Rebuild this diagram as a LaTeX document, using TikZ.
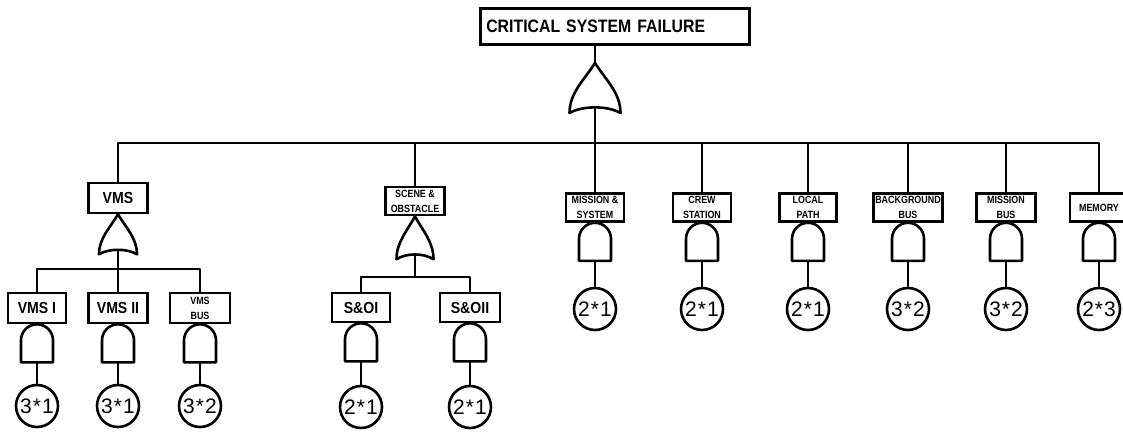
\documentclass[tikz,border=0pt]{standalone}
\usepackage{fontspec}
\setmainfont{Liberation Sans}
\newfontfamily\lettering[FakeStretch=0.88]{Liberation Sans Bold}
\newfontfamily\tagletter[FakeStretch=0.85]{Liberation Sans Bold}
\usetikzlibrary{calc}

\tikzset{
  wire/.style={line width=2.6pt, line join=round},
  gatebox/.style={rectangle, inner sep=0pt, outer sep=0pt},
  titlebox/.style={draw, line width=2.6pt, minimum height=36pt, text width=257pt,
    inner xsep=6pt, inner ysep=0pt, align=left,
    font=\lettering\fontsize{18}{18}\selectfont},
  bigbox/.style={draw, line width=2.6pt, inner sep=0pt, minimum height=30pt,
    font=\lettering\fontsize{16}{16}\selectfont},
  tagbox/.style={draw, line width=2.6pt, inner sep=0pt, minimum height=28pt, align=center,
    font=\tagletter\fontsize{10.5}{15}\selectfont},
  event/.style={circle, draw, line width=2.6pt, minimum size=42pt, inner sep=0pt,
    font=\fontsize{21}{21}\selectfont}
}

% AND gate: flat base, round top; #1 name, #2 position of its top
\newcommand\fandgate[2]{%
  \node[gatebox, minimum width=32pt, minimum height=38pt, anchor=north] (#1) at #2 {};
  \draw[wire] (#1.south west) -- ($(#1.north west)+(0,16)$)
    arc[start angle=180, end angle=0, radius=16pt] -- (#1.south east) -- cycle;
}
% OR gate: pointed top, concave base; #1 name, #2 top, #3 width, #4 height
\newcommand\forgate[4]{%
  \node[gatebox, minimum width=#3pt, minimum height=#4pt, anchor=north] (#1) at #2 {};
  \draw[wire] (#1.north) .. controls +(-0.22*#3,0.35*#4) and +(0,-0.4*#4) .. (#1.south west)
    .. controls +(0.25*#3,-0.15*#4) and +(-0.25*#3,-0.15*#4) .. (#1.south east)
    .. controls +(0,-0.4*#4) and +(0.22*#3,0.35*#4) .. (#1.north) -- cycle;
  \coordinate (#1-out) at ($(#1.south)+(0,-0.11*#4)$);
}
\newcommand\evtext[2]{#1\kern1pt*\kern1pt#2}

\begin{document}
\begin{tikzpicture}[x=1pt,y=-1pt]
\useasboundingbox (0,0) rectangle (1123,431);
\clip (0,0) rectangle (1123,431);

% top event
\node[titlebox, anchor=north west] (top) at (479,7) {CRITICAL SYSTEM FAILURE};
\forgate{g0}{(595,63)}{51}{50}
\coordinate (bus) at (0,143);

% VMS branch
\node[bigbox, minimum width=59pt] (vms) at (118,198) {VMS};
\forgate{gv}{(vms.south)}{38}{40}
\coordinate (vbus) at (0,269);
\node[bigbox, minimum width=58pt] (vms1) at (37,308) {VMS I};
\node[bigbox, minimum width=59pt] (vms2) at (118,308) {VMS II};
\node[tagbox, minimum width=60pt, minimum height=30pt] (vmsb) at (200,308) {VMS\\BUS};
\fandgate{av1}{(vms1.south)}
\fandgate{av2}{(vms2.south)}
\fandgate{av3}{(vmsb.south)}
\node[event] (ev1) at (37,406) {\evtext{3}{1}};
\node[event] (ev2) at (118,406) {\evtext{3}{1}};
\node[event] (ev3) at (200,406) {\evtext{3}{2}};

% scene & obstacle branch
\node[tagbox, minimum width=59pt, minimum height=28pt] (sco) at (415,201) {SCENE \&\\OBSTACLE};
\forgate{gs}{(sco.south)}{37}{43}
\coordinate (sbus) at (0,277);
\node[bigbox, minimum width=58pt, minimum height=29pt] (so1) at (361,307.5) {S\&OI};
\node[bigbox, minimum width=60pt, minimum height=29pt] (so2) at (470,307.5) {S\&OII};
\fandgate{as1}{(so1.south)}
\fandgate{as2}{(so2.south)}
\node[event] (es1) at (361,407) {\evtext{2}{1}};
\node[event] (es2) at (470,407) {\evtext{2}{1}};

% single-gate branches
\node[tagbox, minimum width=58pt] (ms) at (595,207.5) {MISSION \&\\SYSTEM};
\node[tagbox, minimum width=58pt] (crew) at (702,207.5) {CREW\\STATION};
\node[tagbox, minimum width=57pt] (loc) at (808,207.5) {LOCAL\\PATH};
\node[tagbox, minimum width=69pt] (bg) at (908,207.5) {BACKGROUND\\BUS};
\node[tagbox, minimum width=59pt] (mb) at (1006,207.5) {MISSION\\BUS};
\node[tagbox, minimum width=58pt] (mem) at (1099,207.5) {MEMORY};
\foreach \n in {ms,crew,loc,bg,mb,mem} {\fandgate{a-\n}{(\n.south)}}
\node[event] (e-ms) at (595,309) {\evtext{2}{1}};
\node[event] (e-crew) at (702,309) {\evtext{2}{1}};
\node[event] (e-loc) at (808,309) {\evtext{2}{1}};
\node[event] (e-bg) at (908,309) {\evtext{3}{2}};
\node[event] (e-mb) at (1006,309) {\evtext{3}{2}};
\node[event] (e-mem) at (1099,309) {\evtext{2}{3}};

% connectors
\draw[wire] (g0.north |- top.south) -- (g0.north);
\draw[wire] (g0-out) -- (ms.north);
\draw[wire] (vms.north) -- (vms.north |- bus) -- (mem.north |- bus) -- (mem.north);
\foreach \n in {sco,crew,loc,bg,mb} {\draw[wire] (\n.north |- bus) -- (\n.north);}

\draw[wire] (gv-out) -- (vms2.north);
\draw[wire] (vms1.north) -- (vms1.north |- vbus) -- (vmsb.north |- vbus) -- (vmsb.north);
\draw[wire] (gs-out) -- (gs-out |- sbus);
\draw[wire] (so1.north) -- (so1.north |- sbus) -- (so2.north |- sbus) -- (so2.north);

\draw[wire] (av1.south) -- (ev1.north);
\draw[wire] (av2.south) -- (ev2.north);
\draw[wire] (av3.south) -- (ev3.north);
\draw[wire] (as1.south) -- (es1.north);
\draw[wire] (as2.south) -- (es2.north);
\foreach \n in {ms,crew,loc,bg,mb,mem} {\draw[wire] (a-\n.south) -- (e-\n.north);}
\end{tikzpicture}
\end{document}
